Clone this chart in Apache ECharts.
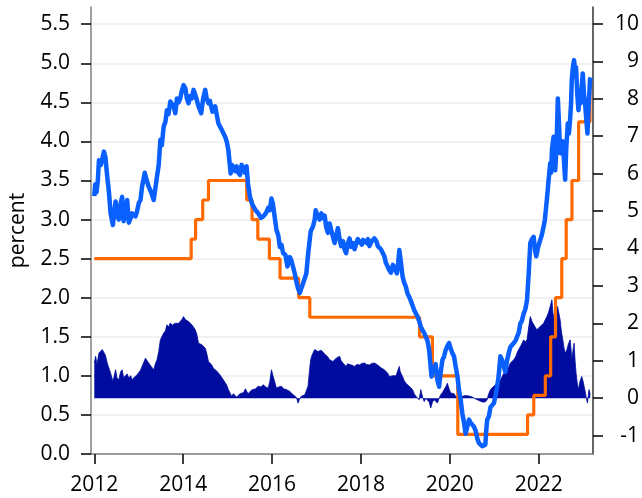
<!DOCTYPE html>
<html>
<head>
<meta charset="utf-8">
<script src="https://cdn.jsdelivr.net/npm/echarts@6/dist/echarts.min.js"></script>
<style>
  html, body { margin: 0; padding: 0; background: #fff; }
  #chart { width: 642px; height: 498px; }
</style>
</head>
<body>
<div id="chart"></div>
<script>
// x values are decimal years
const yearTicks = [2012, 2014, 2016, 2018, 2020, 2022];
const leftTicks = [0, 0.5, 1, 1.5, 2, 2.5, 3, 3.5, 4, 4.5, 5, 5.5];
const rightTicks = [-1, 0, 1, 2, 3, 4, 5, 6, 7, 8, 9, 10];

// policy rate (step line, left axis)
const rateYears = [2012.0, 2014.18, 2014.28, 2014.44, 2014.57, 2015.43, 2015.55, 2015.68, 2015.94,
  2016.18, 2016.6, 2016.85, 2019.32, 2019.61, 2020.18, 2021.75, 2021.89, 2022.15, 2022.27,
  2022.38, 2022.52, 2022.62, 2022.75, 2022.9, 2023.155, 2023.18];
const rateValues = [2.5, 2.75, 3.0, 3.25, 3.5, 3.25, 3.0, 2.75, 2.5,
  2.25, 2.0, 1.75, 1.5, 1.0, 0.25, 0.5, 0.75, 1.0, 1.5,
  2.0, 2.5, 3.0, 3.5, 4.25, 4.75, 4.75];

// bond yield (blue line, left axis)
const yieldYears = [2012.0, 2012.02, 2012.05, 2012.08, 2012.105, 2012.15, 2012.217, 2012.25, 2012.291, 2012.33,
  2012.367, 2012.419, 2012.45, 2012.479, 2012.51, 2012.553, 2012.59, 2012.627, 2012.66, 2012.703,
  2012.74, 2012.777, 2012.82, 2012.851, 2012.927, 2012.96, 2013.001, 2013.04, 2013.075, 2013.136,
  2013.18, 2013.225, 2013.28, 2013.337, 2013.411, 2013.45, 2013.487, 2013.52, 2013.561, 2013.6,
  2013.635, 2013.67, 2013.711, 2013.75, 2013.785, 2013.823, 2013.86, 2013.897, 2013.935, 2013.97,
  2014.009, 2014.05, 2014.083, 2014.121, 2014.159, 2014.195, 2014.233, 2014.271, 2014.307, 2014.345,
  2014.406, 2014.45, 2014.496, 2014.53, 2014.569, 2014.6, 2014.659, 2014.72, 2014.793, 2014.83,
  2014.867, 2014.944, 2014.98, 2015.017, 2015.069, 2015.1, 2015.129, 2015.168, 2015.203, 2015.241,
  2015.28, 2015.315, 2015.354, 2015.39, 2015.427, 2015.46, 2015.504, 2015.54, 2015.577, 2015.63,
  2015.689, 2015.75, 2015.801, 2015.86, 2015.913, 2015.95, 2015.987, 2016.02, 2016.048, 2016.099,
  2016.14, 2016.176, 2016.21, 2016.25, 2016.3, 2016.346, 2016.4, 2016.435, 2016.47, 2016.512,
  2016.55, 2016.586, 2016.624, 2016.659, 2016.698, 2016.736, 2016.772, 2016.81, 2016.848, 2016.87,
  2016.922, 2016.96, 2016.982, 2017.02, 2017.072, 2017.11, 2017.146, 2017.184, 2017.22, 2017.258,
  2017.296, 2017.332, 2017.37, 2017.408, 2017.444, 2017.482, 2017.52, 2017.556, 2017.6, 2017.63,
  2017.668, 2017.7, 2017.744, 2017.78, 2017.82, 2017.856, 2017.9, 2017.93, 2017.968, 2018.02,
  2018.05, 2018.08, 2018.13, 2018.16, 2018.192, 2018.24, 2018.27, 2018.304, 2018.35, 2018.38,
  2018.416, 2018.45, 2018.49, 2018.528, 2018.56, 2018.602, 2018.64, 2018.676, 2018.72, 2018.752,
  2018.78, 2018.81, 2018.84, 2018.864, 2018.89, 2018.938, 2018.97, 2019.012, 2019.05, 2019.088,
  2019.13, 2019.162, 2019.2, 2019.236, 2019.274, 2019.312, 2019.348, 2019.39, 2019.424, 2019.46,
  2019.498, 2019.536, 2019.572, 2019.59, 2019.61, 2019.648, 2019.684, 2019.72, 2019.76, 2019.796,
  2019.834, 2019.872, 2019.908, 2019.946, 2019.984, 2020.02, 2020.058, 2020.096, 2020.132, 2020.17,
  2020.208, 2020.244, 2020.282, 2020.32, 2020.356, 2020.394, 2020.432, 2020.468, 2020.544, 2020.58,
  2020.618, 2020.656, 2020.692, 2020.73, 2020.768, 2020.8, 2020.82, 2020.842, 2020.88, 2020.916,
  2020.95, 2020.992, 2021.03, 2021.066, 2021.1, 2021.14, 2021.18, 2021.216, 2021.25, 2021.29,
  2021.33, 2021.364, 2021.4, 2021.44, 2021.48, 2021.514, 2021.55, 2021.588, 2021.62, 2021.664,
  2021.7, 2021.738, 2021.776, 2021.812, 2021.85, 2021.888, 2021.92, 2021.946, 2021.99, 2022.036,
  2022.07, 2022.112, 2022.14, 2022.17, 2022.2, 2022.224, 2022.26, 2022.28, 2022.3, 2022.336,
  2022.372, 2022.4, 2022.432, 2022.46, 2022.484, 2022.51, 2022.544, 2022.57, 2022.596, 2022.62,
  2022.656, 2022.68, 2022.708, 2022.73, 2022.746, 2022.77, 2022.797, 2022.82, 2022.842, 2022.87,
  2022.896, 2022.92, 2022.948, 2022.97, 2022.992, 2023.02, 2023.044, 2023.07, 2023.098, 2023.12,
  2023.156, 2023.17];
const yieldValues = [3.30, 3.45, 3.35, 3.50, 3.76, 3.70, 3.87, 3.80, 3.55, 3.35,
  3.08, 2.93, 3.10, 3.23, 3.05, 3.00, 3.20, 3.29, 2.98, 3.08,
  3.25, 2.96, 3.02, 3.08, 3.04, 3.10, 3.21, 3.25, 3.42, 3.60,
  3.50, 3.42, 3.35, 3.25, 3.55, 3.70, 4.02, 3.95, 4.19, 4.25,
  4.40, 4.35, 4.51, 4.50, 4.45, 4.36, 4.55, 4.50, 4.55, 4.65,
  4.72, 4.68, 4.55, 4.49, 4.58, 4.55, 4.66, 4.60, 4.53, 4.45,
  4.36, 4.55, 4.66, 4.55, 4.49, 4.52, 4.38, 4.45, 4.23, 4.25,
  4.15, 4.06, 4.00, 3.89, 3.59, 3.70, 3.72, 3.62, 3.68, 3.60,
  3.57, 3.70, 3.66, 3.60, 3.68, 3.45, 3.29, 3.22, 3.17, 3.12,
  3.08, 3.02, 3.04, 3.08, 3.15, 3.12, 3.27, 3.20, 3.08, 2.87,
  2.80, 2.65, 2.68, 2.57, 2.55, 2.40, 2.52, 2.48, 2.40, 2.31,
  2.20, 2.12, 2.06, 2.12, 2.18, 2.25, 2.31, 2.55, 2.74, 2.85,
  2.91, 3.00, 3.12, 3.05, 3.00, 3.08, 3.02, 3.05, 2.90, 2.83,
  2.95, 2.96, 2.78, 2.70, 2.80, 2.89, 2.75, 2.66, 2.72, 2.62,
  2.57, 2.68, 2.76, 2.65, 2.70, 2.62, 2.70, 2.75, 2.72, 2.68,
  2.74, 2.76, 2.70, 2.75, 2.66, 2.72, 2.70, 2.76, 2.72, 2.66,
  2.66, 2.62, 2.60, 2.53, 2.45, 2.45, 2.35, 2.32, 2.42, 2.40,
  2.35, 2.31, 2.45, 2.61, 2.50, 2.27, 2.20, 2.14, 2.05, 2.01,
  1.95, 1.90, 1.84, 1.80, 1.76, 1.70, 1.63, 1.58, 1.55, 1.50,
  1.45, 1.33, 1.10, 0.99, 1.05, 1.08, 1.15, 0.95, 0.86, 1.05,
  1.20, 1.25, 1.33, 1.38, 1.42, 1.35, 1.29, 1.25, 1.12, 1.00,
  0.82, 0.70, 0.52, 0.40, 0.26, 0.35, 0.44, 0.40, 0.35, 0.30,
  0.20, 0.14, 0.12, 0.10, 0.09, 0.12, 0.30, 0.44, 0.48, 0.60,
  0.62, 0.65, 0.75, 0.86, 1.00, 1.25, 1.20, 1.12, 1.05, 1.20,
  1.30, 1.37, 1.35, 1.42, 1.45, 1.50, 1.55, 1.67, 1.70, 1.80,
  1.85, 1.97, 2.31, 2.70, 2.75, 2.78, 2.60, 2.53, 2.65, 2.74,
  2.80, 2.91, 3.00, 3.17, 3.35, 3.51, 3.72, 3.60, 3.90, 4.06,
  3.63, 3.90, 4.55, 4.20, 3.85, 3.95, 4.00, 3.75, 3.51, 3.90,
  4.23, 4.10, 4.28, 4.50, 4.79, 4.95, 5.04, 4.90, 4.95, 4.60,
  4.40, 4.55, 4.49, 4.70, 4.87, 4.60, 4.49, 4.30, 4.10, 4.40,
  4.79, 4.82];

// spread (navy area, right axis)
const spreadYears = [2012.0, 2012.03, 2012.06, 2012.105, 2012.179, 2012.217, 2012.25, 2012.291, 2012.33, 2012.367,
  2012.419, 2012.45, 2012.479, 2012.51, 2012.553, 2012.59, 2012.627, 2012.66, 2012.703, 2012.74,
  2012.777, 2012.82, 2012.851, 2012.89, 2012.927, 2012.96, 2013.001, 2013.04, 2013.075, 2013.151,
  2013.19, 2013.225, 2013.28, 2013.337, 2013.37, 2013.411, 2013.45, 2013.487, 2013.52, 2013.561,
  2013.6, 2013.635, 2013.67, 2013.711, 2013.75, 2013.785, 2013.82, 2013.859, 2013.897, 2013.935,
  2013.97, 2014.009, 2014.05, 2014.083, 2014.121, 2014.159, 2014.195, 2014.233, 2014.271, 2014.31,
  2014.345, 2014.38, 2014.419, 2014.46, 2014.496, 2014.53, 2014.569, 2014.6, 2014.643, 2014.68,
  2014.72, 2014.76, 2014.793, 2014.83, 2014.867, 2014.9, 2014.944, 2014.98, 2015.017, 2015.05,
  2015.091, 2015.13, 2015.168, 2015.2, 2015.241, 2015.28, 2015.315, 2015.36, 2015.4, 2015.427,
  2015.46, 2015.504, 2015.54, 2015.577, 2015.63, 2015.689, 2015.75, 2015.801, 2015.86, 2015.913,
  2015.95, 2015.987, 2016.02, 2016.048, 2016.08, 2016.099, 2016.15, 2016.211, 2016.26, 2016.323,
  2016.362, 2016.4, 2016.435, 2016.47, 2016.512, 2016.55, 2016.586, 2016.62, 2016.659, 2016.7,
  2016.736, 2016.772, 2016.81, 2016.848, 2016.87, 2016.9, 2016.922, 2016.96, 2016.995, 2017.03,
  2017.072, 2017.11, 2017.146, 2017.184, 2017.22, 2017.258, 2017.296, 2017.332, 2017.37, 2017.408,
  2017.444, 2017.482, 2017.52, 2017.556, 2017.594, 2017.63, 2017.668, 2017.7, 2017.744, 2017.8,
  2017.856, 2017.91, 2017.968, 2018.02, 2018.08, 2018.13, 2018.192, 2018.25, 2018.304, 2018.36,
  2018.416, 2018.47, 2018.528, 2018.56, 2018.602, 2018.64, 2018.676, 2018.72, 2018.752, 2018.79,
  2018.826, 2018.864, 2018.886, 2018.938, 2018.97, 2019.012, 2019.05, 2019.088, 2019.13, 2019.162,
  2019.2, 2019.236, 2019.274, 2019.312, 2019.348, 2019.39, 2019.424, 2019.46, 2019.498, 2019.536,
  2019.572, 2019.61, 2019.648, 2019.684, 2019.722, 2019.76, 2019.796, 2019.834, 2019.872, 2019.908,
  2019.946, 2019.984, 2020.02, 2020.058, 2020.096, 2020.132, 2020.17, 2020.208, 2020.244, 2020.282,
  2020.32, 2020.356, 2020.394, 2020.432, 2020.468, 2020.51, 2020.544, 2020.58, 2020.618, 2020.656,
  2020.692, 2020.73, 2020.768, 2020.8, 2020.842, 2020.87, 2020.916, 2020.95, 2020.992, 2021.03,
  2021.066, 2021.1, 2021.14, 2021.18, 2021.216, 2021.25, 2021.29, 2021.33, 2021.364, 2021.4,
  2021.44, 2021.48, 2021.514, 2021.55, 2021.588, 2021.62, 2021.664, 2021.7, 2021.738, 2021.776,
  2021.812, 2021.85, 2021.888, 2021.92, 2021.962, 2022.0, 2022.036, 2022.07, 2022.112, 2022.15,
  2022.186, 2022.224, 2022.26, 2022.298, 2022.32, 2022.336, 2022.372, 2022.4, 2022.426, 2022.45,
  2022.484, 2022.51, 2022.544, 2022.57, 2022.596, 2022.634, 2022.67, 2022.708, 2022.73, 2022.746,
  2022.77, 2022.797, 2022.82, 2022.842, 2022.87, 2022.896, 2022.93, 2022.97, 2023.0, 2023.022,
  2023.044, 2023.066, 2023.098, 2023.12, 2023.134, 2023.16];
const spreadValues = [0.94, 1.12, 0.90, 1.21, 1.30, 1.34, 1.15, 0.94, 0.80, 0.67,
  0.45, 0.60, 0.76, 0.55, 0.49, 0.70, 0.76, 0.55, 0.58, 0.65,
  0.54, 0.60, 0.49, 0.55, 0.54, 0.62, 0.67, 0.75, 0.85, 1.07,
  1.00, 0.94, 0.85, 0.76, 0.90, 1.03, 1.25, 1.56, 1.60, 1.74,
  1.80, 1.96, 1.90, 2.01, 1.95, 1.92, 2.00, 2.05, 2.00, 1.96,
  2.10, 2.18, 2.10, 2.05, 2.05, 2.01, 1.96, 1.90, 1.83, 1.70,
  1.47, 1.50, 1.43, 1.40, 1.34, 1.20, 0.98, 0.95, 0.89, 0.80,
  0.76, 0.72, 0.67, 0.62, 0.58, 0.50, 0.45, 0.35, 0.23, 0.15,
  0.05, 0.12, 0.09, 0.03, 0.05, 0.12, 0.09, 0.15, 0.25, 0.23,
  0.12, 0.14, 0.22, 0.18, 0.25, 0.32, 0.30, 0.36, 0.30, 0.27,
  0.45, 0.76, 0.60, 0.49, 0.35, 0.27, 0.30, 0.32, 0.25, 0.23,
  0.23, 0.18, 0.14, 0.10, 0.05, 0.02, -0.13, -0.02, 0.05, 0.07,
  0.09, 0.20, 0.32, 0.80, 1.03, 1.15, 1.21, 1.30, 1.34, 1.25,
  1.21, 1.28, 1.25, 1.18, 1.16, 1.10, 1.03, 1.05, 0.98, 1.02,
  1.07, 1.10, 1.12, 1.00, 0.94, 0.90, 0.85, 0.92, 0.94, 0.88,
  0.85, 0.90, 0.89, 0.93, 0.94, 0.90, 0.89, 0.93, 0.94, 0.90,
  0.85, 0.80, 0.76, 0.72, 0.67, 0.58, 0.54, 0.60, 0.63, 0.60,
  0.58, 0.85, 0.70, 0.58, 0.48, 0.40, 0.35, 0.32, 0.28, 0.23,
  0.12, 0.05, 0.02, -0.04, 0.23, 0.02, -0.09, 0.00, -0.04, -0.10,
  -0.26, -0.10, -0.04, -0.08, -0.13, 0.00, 0.09, 0.15, 0.23, 0.30,
  0.40, 0.25, 0.14, 0.09, 0.12, 0.05, 0.05, 0.02, 0.00, 0.05,
  0.09, 0.07, 0.05, 0.06, 0.05, 0.03, 0.00, -0.02, -0.04, -0.06,
  -0.09, -0.10, -0.12, -0.10, -0.04, 0.10, 0.23, 0.28, 0.32, 0.36,
  0.40, 0.45, 0.49, 0.58, 0.67, 0.70, 0.76, 0.85, 0.94, 0.98,
  1.03, 1.10, 1.21, 1.30, 1.38, 1.45, 1.56, 1.50, 1.56, 1.90,
  2.18, 2.05, 2.00, 1.90, 1.83, 1.88, 1.92, 1.95, 2.00, 2.10,
  2.18, 2.30, 2.45, 2.63, 2.30, 2.18, 2.00, 2.20, 2.45, 2.30,
  2.09, 1.80, 1.56, 1.35, 1.21, 1.29, 1.45, 1.56, 1.30, 1.03,
  1.25, 1.47, 1.00, 0.67, 0.40, 0.23, 0.45, 0.58, 0.45, 0.32,
  0.20, 0.05, -0.13, 0.10, 0.23, 0.10];

const pairs = (xs, ys) => xs.map((x, i) => [x, ys[i]]);

const chart = echarts.init(document.getElementById('chart'));
const font = 'Open Sans';

const option = {
    animation: false,
    backgroundColor: '#fff',
    grid: { left: 90, right: 48, top: 7, bottom: 44 },
    xAxis: {
        type: 'value',
        min: 2011.926,
        max: 2023.223,
        axisLine: { lineStyle: { color: '#808080', width: 1.5 } },
        axisTick: { customValues: yearTicks, length: 10, lineStyle: { color: '#000', width: 1.5 } },
        axisLabel: {
            customValues: yearTicks,
            margin: 21,
            color: '#000',
            fontFamily: font,
            fontSize: 21,
            formatter: v => String(v)
        },
        splitLine: { show: false }
    },
    yAxis: [{
        type: 'value',
        position: 'left',
        min: 0,
        max: 5.72,
        name: 'percent',
        nameLocation: 'middle',
        nameGap: 62,
        nameTextStyle: { color: '#000', fontFamily: font, fontSize: 21 },
        axisLine: { show: true, lineStyle: { color: '#808080', width: 1.5 } },
        axisTick: { show: true, customValues: leftTicks, length: 10, lineStyle: { color: '#000', width: 1.5 } },
        axisLabel: {
            customValues: leftTicks,
            margin: 21,
            color: '#000',
            fontFamily: font,
            fontSize: 21,
            formatter: v => v.toFixed(1)
        },
        splitLine: { show: true, lineStyle: { color: '#ececec', width: 1.5 } }
    }, {
        type: 'value',
        position: 'right',
        min: -1.49,
        max: 10.45,
        axisLine: { show: true, lineStyle: { color: '#333', width: 1.5 } },
        axisTick: { show: true, customValues: rightTicks, length: 10, lineStyle: { color: '#000', width: 1.5 } },
        axisLabel: {
            customValues: rightTicks,
            margin: 46,
            align: 'right',
            color: '#000',
            fontFamily: font,
            fontSize: 21
        },
        splitLine: { show: false }
    }],
    series: [{
        type: 'line',
        yAxisIndex: 1,
        data: pairs(spreadYears, spreadValues),
        showSymbol: false,
        lineStyle: { width: 0.8, color: '#000ca0' },
        areaStyle: { color: '#000ca0', opacity: 1 },
        z: 1
    }, {
        type: 'line',
        yAxisIndex: 0,
        step: 'end',
        data: pairs(rateYears, rateValues),
        showSymbol: false,
        lineStyle: { width: 3.2, color: '#ff6a00' },
        z: 2
    }, {
        type: 'line',
        yAxisIndex: 0,
        data: pairs(yieldYears, yieldValues),
        showSymbol: false,
        lineStyle: { width: 4.5, color: '#0a5fff', join: 'round' },
        z: 3
    }]
};

chart.setOption(option);

window.addEventListener('resize', () => {
    chart.resize();
});
</script>
</body>
</html>
